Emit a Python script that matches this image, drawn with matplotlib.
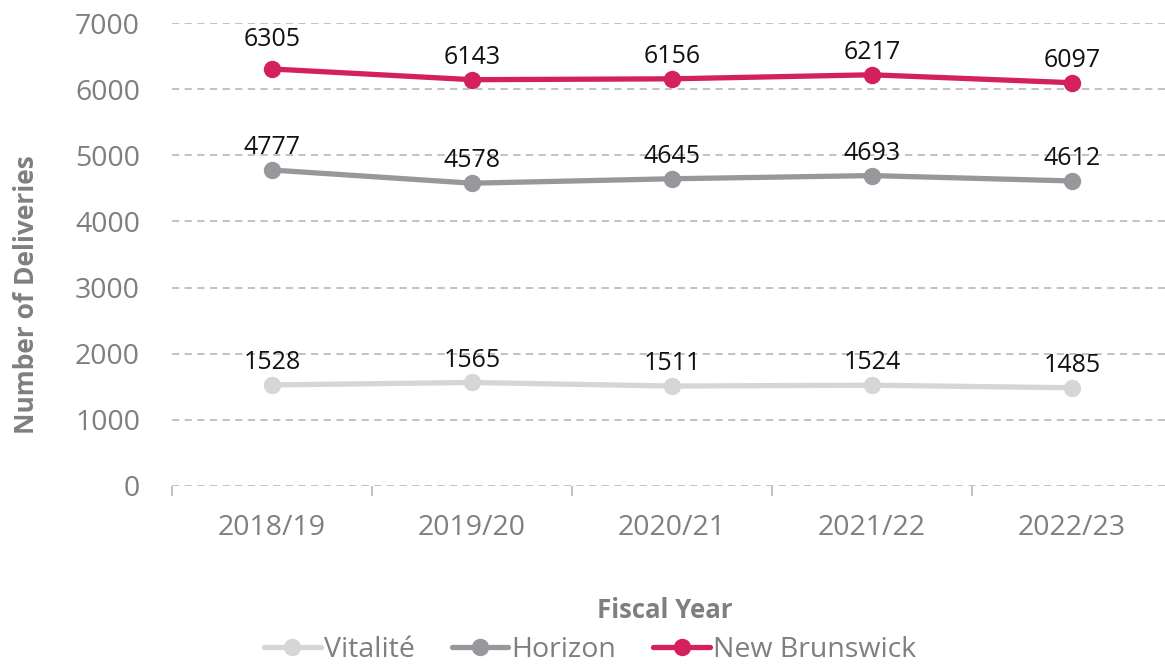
import matplotlib
matplotlib.use("Agg")
import matplotlib.pyplot as plt
from matplotlib.ticker import FixedLocator

plt.rcParams['font.family'] = ['Open Sans', 'DejaVu Sans']

years = ["2018/19", "2019/20", "2020/21", "2021/22", "2022/23"]
vitalite = [1528, 1565, 1511, 1524, 1485]
horizon = [4777, 4578, 4645, 4693, 4612]
new_brunswick = [6305, 6143, 6156, 6217, 6097]

series = [
    ("Vitalité", vitalite, "#D6D6D6"),
    ("Horizon", horizon, "#98989C"),
    ("New Brunswick", new_brunswick, "#D4215E"),
]

W, H = 1165, 666
fig = plt.figure(figsize=(W / 100, H / 100), dpi=100)
ax = fig.add_axes([172 / W, (H - 486) / H, 1000 / W, 463 / H])

x = list(range(len(years)))
for name, vals, col in series:
    ax.plot(x, vals, color=col, lw=3.8, marker="o", ms=11.5, label=name,
            solid_capstyle="round", zorder=3, clip_on=False)
    for xi, v in zip(x, vals):
        dy = 12 if (name == "New Brunswick" and xi == 0) else 7
        ax.annotate(str(v), (xi, v), xytext=(0, dy), textcoords="offset points",
                    ha="center", va="bottom", fontsize=18, color="#111111")

ax.set_xlim(-0.5, 4.5)
ax.set_ylim(0, 7000)
ax.set_yticks(range(0, 7001, 1000))
ax.yaxis.grid(True, color="#BDBDBD", ls=(0, (4, 3)), lw=1.3)
ax.set_axisbelow(True)
for s in ax.spines.values():
    s.set_visible(False)
ax.tick_params(axis="y", length=0, labelsize=20.5, labelcolor="#7F7F7F", pad=23)
ax.set_xticks(x)
ax.set_xticklabels(years)
ax.tick_params(axis="x", which="major", length=0, labelsize=20.5,
               labelcolor="#7F7F7F", pad=20)
ax.xaxis.set_minor_locator(FixedLocator([-0.5, 0.5, 1.5, 2.5, 3.5, 4.5]))
ax.tick_params(axis="x", which="minor", length=7, width=1.3, color="#BDBDBD")

ax.set_ylabel("Number of Deliveries", fontsize=19, fontweight="bold",
              color="#7F7F7F")
ax.yaxis.set_label_coords((40 - 172) / 1000, (486 - 295) / 463)
fig.text(665 / W, 1 - 610 / H, "Fiscal Year", fontsize=18.5, fontweight="bold",
         color="#7F7F7F", ha="center", va="center")

leg = fig.legend(loc="center", bbox_to_anchor=(590 / W, 1 - 650 / H), ncol=3,
                 frameon=False, fontsize=20.5, handlelength=2.0,
                 handletextpad=0.1, columnspacing=1.3, borderaxespad=0)
for t in leg.get_texts():
    t.set_color("#7F7F7F")

fig.savefig("out.png", dpi=100)
